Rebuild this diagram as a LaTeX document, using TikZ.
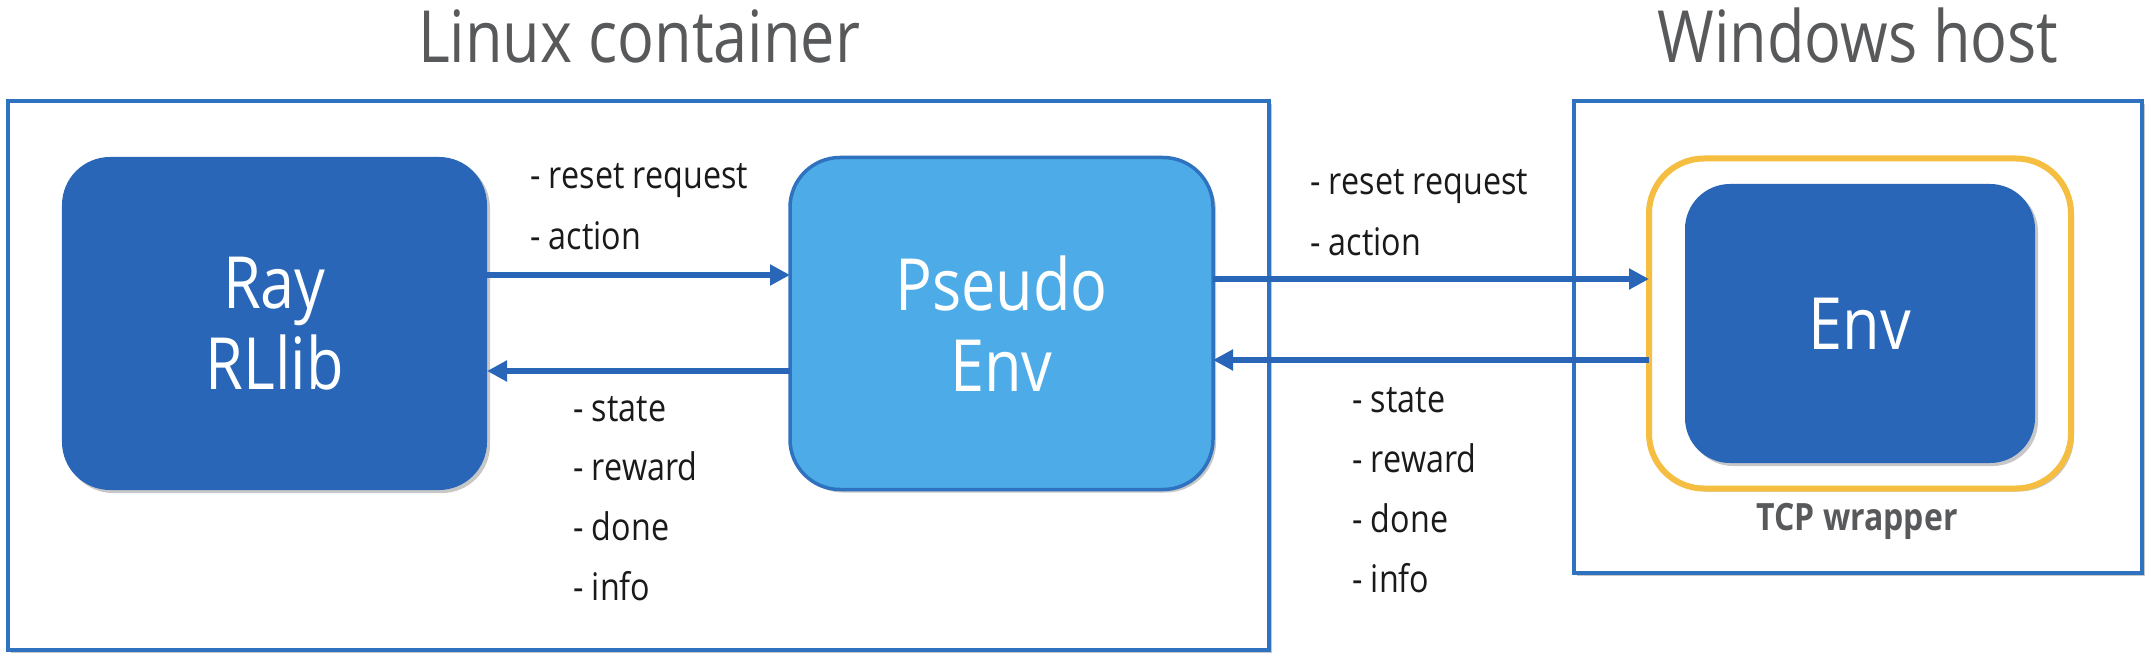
\documentclass[tikz,border=0pt]{standalone}
\usepackage{fontspec}
\setmainfont{Open Sans}[FakeStretch=0.85]
\usetikzlibrary{arrows.meta,shadows}
\definecolor{dblue}{HTML}{2966B8}
\definecolor{lblue}{HTML}{4DACE8}
\definecolor{bblue}{HTML}{2E72C0}
\definecolor{ygold}{HTML}{F5BE41}
\definecolor{tgray}{HTML}{58595B}
\definecolor{ink}{HTML}{1A1A1A}
\begin{document}
\begin{tikzpicture}[x=1bp,y=-1bp,
  shadowed/.style={drop shadow={shadow xshift=3bp,shadow yshift=-3bp,opacity=0.22,fill=black}},
  container/.style={draw=bblue,line width=3.5bp,fill=white,shadowed,inner sep=0pt,outer sep=0pt},
  bigtext/.style={text=white,align=center,font=\fontsize{72bp}{81bp}\selectfont},
  darkbox/.style={fill=dblue,rounded corners=48bp,shadowed,inner sep=0pt,outer sep=0pt,bigtext},
  lightbox/.style={fill=lblue,draw=bblue,line width=3.5bp,rounded corners=50bp,shadowed,inner sep=0pt,outer sep=0pt,bigtext},
  wrapbox/.style={fill=white,draw=ygold,line width=6bp,rounded corners=55bp,shadowed,inner sep=0pt,outer sep=0pt},
  title/.style={text=tgray,font=\fontsize{72bp}{80bp}\selectfont,inner sep=0pt,anchor=base},
  caption/.style={text=tgray,font=\bfseries\fontsize{37.6bp}{44bp}\selectfont,inner sep=0pt,anchor=base},
  lbl/.style={text=ink,font=\fontsize{38bp}{46bp}\selectfont,inner sep=0pt,anchor=base west},
  arr/.style={draw=dblue,line width=6bp,-{Triangle[length=20bp,width=20bp]}}
]
\useasboundingbox (0,0) rectangle (2152,665);

% containers
\node[container,minimum width=1261bp,minimum height=549bp] (linux) at (638.5,375.5) {};
\node[container,minimum width=568bp,minimum height=472bp] (win) at (1858,337) {};
\node[title] (tlinux) at (639,63) {Linux container};
\node[title] (twin) at (1858,63) {Windows host};

% boxes
\node[darkbox,minimum width=425bp,minimum height=333bp] (ray) at (274.5,323.5) {Ray\\RLlib};
\node[lightbox,minimum width=423bp,minimum height=332bp] (pseudo) at (1001.5,323.5) {Pseudo\\Env};
\node[wrapbox,minimum width=422bp,minimum height=330bp] (wrap) at (1860,323.5) {};
\node[darkbox,rounded corners=45bp,minimum width=350bp,minimum height=279bp] (env) at (1860,323.5) {Env};
\node[caption] (tcp) at (1857,530) {TCP wrapper};

% arrows
\draw[arr] ([yshift=48.5bp]ray.east) -- ([yshift=48.5bp]pseudo.west);
\draw[arr] ([yshift=-47.5bp]pseudo.west) -- ([yshift=-47.5bp]ray.east);
\draw[arr] ([yshift=44.5bp]pseudo.east) -- ([yshift=44.5bp]wrap.west);
\draw[arr] ([yshift=-36.5bp]wrap.west) -- ([yshift=-36.5bp]pseudo.east);

% labels
\node[lbl] (a1) at (530,189) {- reset request};
\node[lbl] (a2) at (530,249) {- action};
\node[lbl] (b1) at (573,421) {- state};
\node[lbl] (b2) at (573,480) {- reward};
\node[lbl] (b3) at (573,540) {- done};
\node[lbl] (b4) at (573,600) {- info};
\node[lbl] (c1) at (1310,195) {- reset request};
\node[lbl] (c2) at (1310,255) {- action};
\node[lbl] (d1) at (1352,412) {- state};
\node[lbl] (d2) at (1352,472) {- reward};
\node[lbl] (d3) at (1352,532) {- done};
\node[lbl] (d4) at (1352,592) {- info};
\end{tikzpicture}
\end{document}
